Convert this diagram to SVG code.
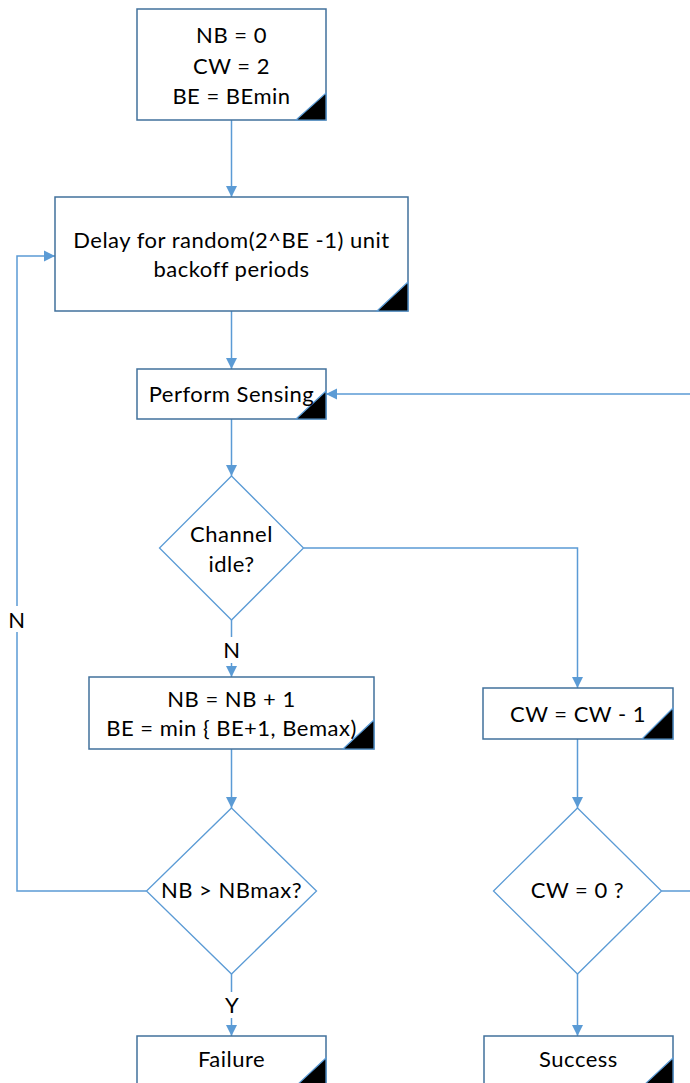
<svg xmlns="http://www.w3.org/2000/svg" width="690" height="1083" viewBox="0 0 690 1083">
<style>
.box{fill:#fff;stroke:#41719C;stroke-width:1.5}
.dia{fill:#fff;stroke:#5B9BD5;stroke-width:1.3}
.tri{fill:#000;stroke:#5B9BD5;stroke-width:1.2}
.ln{fill:none;stroke:#5B9BD5;stroke-width:1.5}
.t{font-family:Lato,"Liberation Sans",sans-serif;font-size:22px;letter-spacing:0.5px;fill:#000;text-anchor:middle}
.bg{fill:#fff}
</style>
<defs>
<marker id="ah" markerWidth="12" markerHeight="12" refX="11" refY="6" orient="auto" markerUnits="userSpaceOnUse">
<path d="M0,0.5 L11,6 L0,11.5 Z" fill="#5B9BD5"/>
</marker>
</defs>
<rect width="690" height="1083" fill="#fff"/>
<g id="connectors">
<path class="ln" d="M231.5,120 V197" marker-end="url(#ah)"/>
<path class="ln" d="M231.5,311 V369" marker-end="url(#ah)"/>
<path class="ln" d="M231.5,419 V476" marker-end="url(#ah)"/>
<path class="ln" d="M231.5,620 V677" marker-end="url(#ah)"/>
<path class="ln" d="M303.5,548 H577.5 V688" marker-end="url(#ah)"/>
<path class="ln" d="M231.5,749 V808" marker-end="url(#ah)"/>
<path class="ln" d="M146.5,891 H17 V256 H55" marker-end="url(#ah)"/>
<path class="ln" d="M231.5,974 V1036" marker-end="url(#ah)"/>
<path class="ln" d="M577.5,739 V808" marker-end="url(#ah)"/>
<path class="ln" d="M577.5,974 V1036" marker-end="url(#ah)"/>
<path class="ln" d="M661.5,891 H700 V394 H326" marker-end="url(#ah)"/>
<rect class="bg" x="221" y="637" width="22" height="26"/>
<text class="t" x="232" y="658">N</text>
<rect class="bg" x="6" y="606" width="22" height="26"/>
<text class="t" x="17" y="628">N</text>
<rect class="bg" x="221" y="992" width="22" height="26"/>
<text class="t" x="232" y="1013">Y</text>
</g>
<g id="init">
<rect class="box" x="137" y="9" width="189" height="111"/>
<path class="tri" d="M296,120 L326,93 L326,120 Z"/>
<text class="t" x="231.5" y="43">NB = 0</text>
<text class="t" x="231.5" y="74">CW = 2</text>
<text class="t" x="231.5" y="104">BE = BEmin</text>
</g>
<g id="delay">
<rect class="box" x="55" y="197" width="353" height="114"/>
<path class="tri" d="M377,311 L408,282 L408,311 Z"/>
<text class="t" x="231.5" y="248">Delay for random(2^BE -1) unit</text>
<text class="t" x="231.5" y="277">backoff periods</text>
</g>
<g id="sensing">
<rect class="box" x="137" y="369" width="189" height="50"/>
<path class="tri" d="M296,419 L326,391 L326,419 Z"/>
<text class="t" x="231.5" y="402">Perform Sensing</text>
</g>
<g id="idle">
<path class="dia" d="M231.5,476 L303.5,548 L231.5,620 L159.5,548 Z"/>
<text class="t" x="231.5" y="542">Channel</text>
<text class="t" x="231.5" y="572">idle?</text>
</g>
<g id="incnb">
<rect class="box" x="89" y="677" width="285" height="72"/>
<path class="tri" d="M343,749 L374,720 L374,749 Z"/>
<text class="t" x="231.5" y="707">NB = NB + 1</text>
<text class="t" x="231.5" y="736">BE = min { BE+1, Bemax)</text>
</g>
<g id="deccw">
<rect class="box" x="483" y="688" width="190" height="51"/>
<path class="tri" d="M642,739 L673,708 L673,739 Z"/>
<text class="t" x="578" y="722">CW = CW - 1</text>
</g>
<g id="nbmax">
<path class="dia" d="M231.5,808 L316.5,891 L231.5,974 L146.5,891 Z"/>
<text class="t" x="231.5" y="898">NB &gt; NBmax?</text>
</g>
<g id="cwzero">
<path class="dia" d="M577.5,808 L661.5,891 L577.5,974 L493.5,891 Z"/>
<text class="t" x="577.5" y="898">CW = 0 ?</text>
</g>
<g id="failure">
<rect class="box" x="137" y="1036" width="189" height="52"/>
<path class="tri" d="M296,1086 L326,1058 L326,1086 Z"/>
<text class="t" x="231.5" y="1067">Failure</text>
</g>
<g id="success">
<rect class="box" x="484" y="1036" width="189" height="52"/>
<path class="tri" d="M643,1086 L673,1058 L673,1086 Z"/>
<text class="t" x="578.5" y="1067">Success</text>
</g>
</svg>
